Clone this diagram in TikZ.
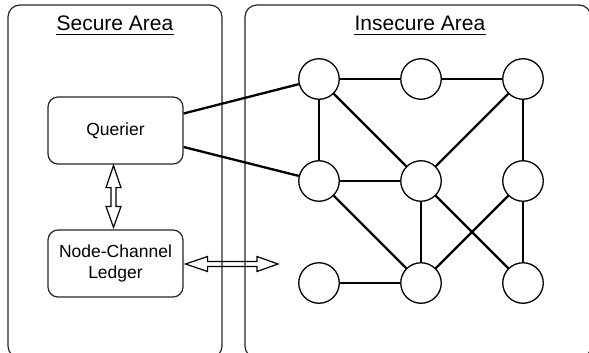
\documentclass[tikz,border=0pt]{standalone}
\usepackage{fontspec}
\setmainfont{Liberation Sans}
\usetikzlibrary{calc}

\begin{document}
\begin{tikzpicture}[x=1pt,y=-1pt,
  area/.style={draw=black!85, line width=1.2pt, rounded corners=12pt},
  box/.style={draw=black!85, line width=1.2pt, rounded corners=10pt,
    minimum width=135pt, minimum height=67pt, align=center, inner sep=0pt,
    font=\fontsize{17.5}{20.5}\selectfont},
  title/.style={inner sep=0pt, font=\fontsize{21}{25}\selectfont},
  uline/.style={line width=1.1pt},
  peer/.style={circle, draw, line width=1.3pt, minimum size=40.5pt, inner sep=0pt},
  link/.style={line width=2.3pt},
  hollow/.style={draw, line width=1.2pt, line join=miter}]

\useasboundingbox (0,0) rectangle (589,353);

% the two areas, running off the lower edge
\begin{scope}
  \clip (0,0) rectangle (589,353);
  \draw[area] (8,5) rectangle (222,358);
  \draw[area] (245,5) rectangle (591,358);
\end{scope}

% area titles
\node[title, anchor=base] (st) at (115,31) {Secure Area};
\draw[uline] ([yshift=-3.2pt]st.base west) -- ([yshift=-3.2pt]st.base east);
\node[title, anchor=base] (it) at (420,31) {Insecure Area};
\draw[uline] ([yshift=-3.2pt]it.base west) -- ([yshift=-3.2pt]it.base east);

% secure side
\node[box] (q) at (115.5,130.5) {Querier};
\node[box] (l) at (115.5,263.5) {Node-Channel\\Ledger};

% peer network
\foreach \r/\y in {1/79,2/181,3/283}
  \foreach \c/\x in {1/319,2/421,3/523}
    \node[peer] (c\r\c) at (\x,\y) {};

\draw[link] ([yshift=17pt]q.east) -- (c11);
\draw[link] ([yshift=-16.5pt]q.east) -- (c21);

\draw[link] (c11) -- (c12);
\draw[link] (c12) -- (c13);
\draw[link] (c11) -- (c21);
\draw[link] (c11) -- (c22);
\draw[link] (c13) -- (c22);
\draw[link] (c13) -- (c23);
\draw[link] (c21) -- (c22);
\draw[link] (c21) -- (c32);
\draw[link] (c22) -- (c32);
\draw[link] (c22) -- (c33);
\draw[link] (c23) -- (c32);
\draw[link] (c23) -- (c33);
\draw[link] (c31) -- (c32);

% hollow two-way arrow between querier and ledger
\coordinate (vt) at ($(q.south)+(-2,1)$);
\coordinate (vb) at ($(l.north)+(-2,-2)$);
\draw[hollow] (vt) -- ($(vt)+(7.5,22)$) -- ($(vt)+(2.5,22)$) -- ($(vb)+(2.5,-21)$)
  -- ($(vb)+(7.5,-21)$) -- (vb) -- ($(vb)+(-7.5,-21)$) -- ($(vb)+(-2.5,-21)$)
  -- ($(vt)+(-2.5,22)$) -- ($(vt)+(-7.5,22)$) -- cycle;

% hollow two-way arrow from the ledger across the boundary
\coordinate (hl) at ($(l.east)+(2,0.5)$);
\coordinate (hr) at (278,264);
\draw[hollow] (hl) -- ($(hl)+(22,-7.5)$) -- ($(hl)+(22,-2.5)$) -- ($(hr)+(-21,-2.5)$)
  -- ($(hr)+(-21,-7.5)$) -- (hr) -- ($(hr)+(-21,7.5)$) -- ($(hr)+(-21,2.5)$)
  -- ($(hl)+(22,2.5)$) -- ($(hl)+(22,7.5)$) -- cycle;

\end{tikzpicture}
\end{document}
